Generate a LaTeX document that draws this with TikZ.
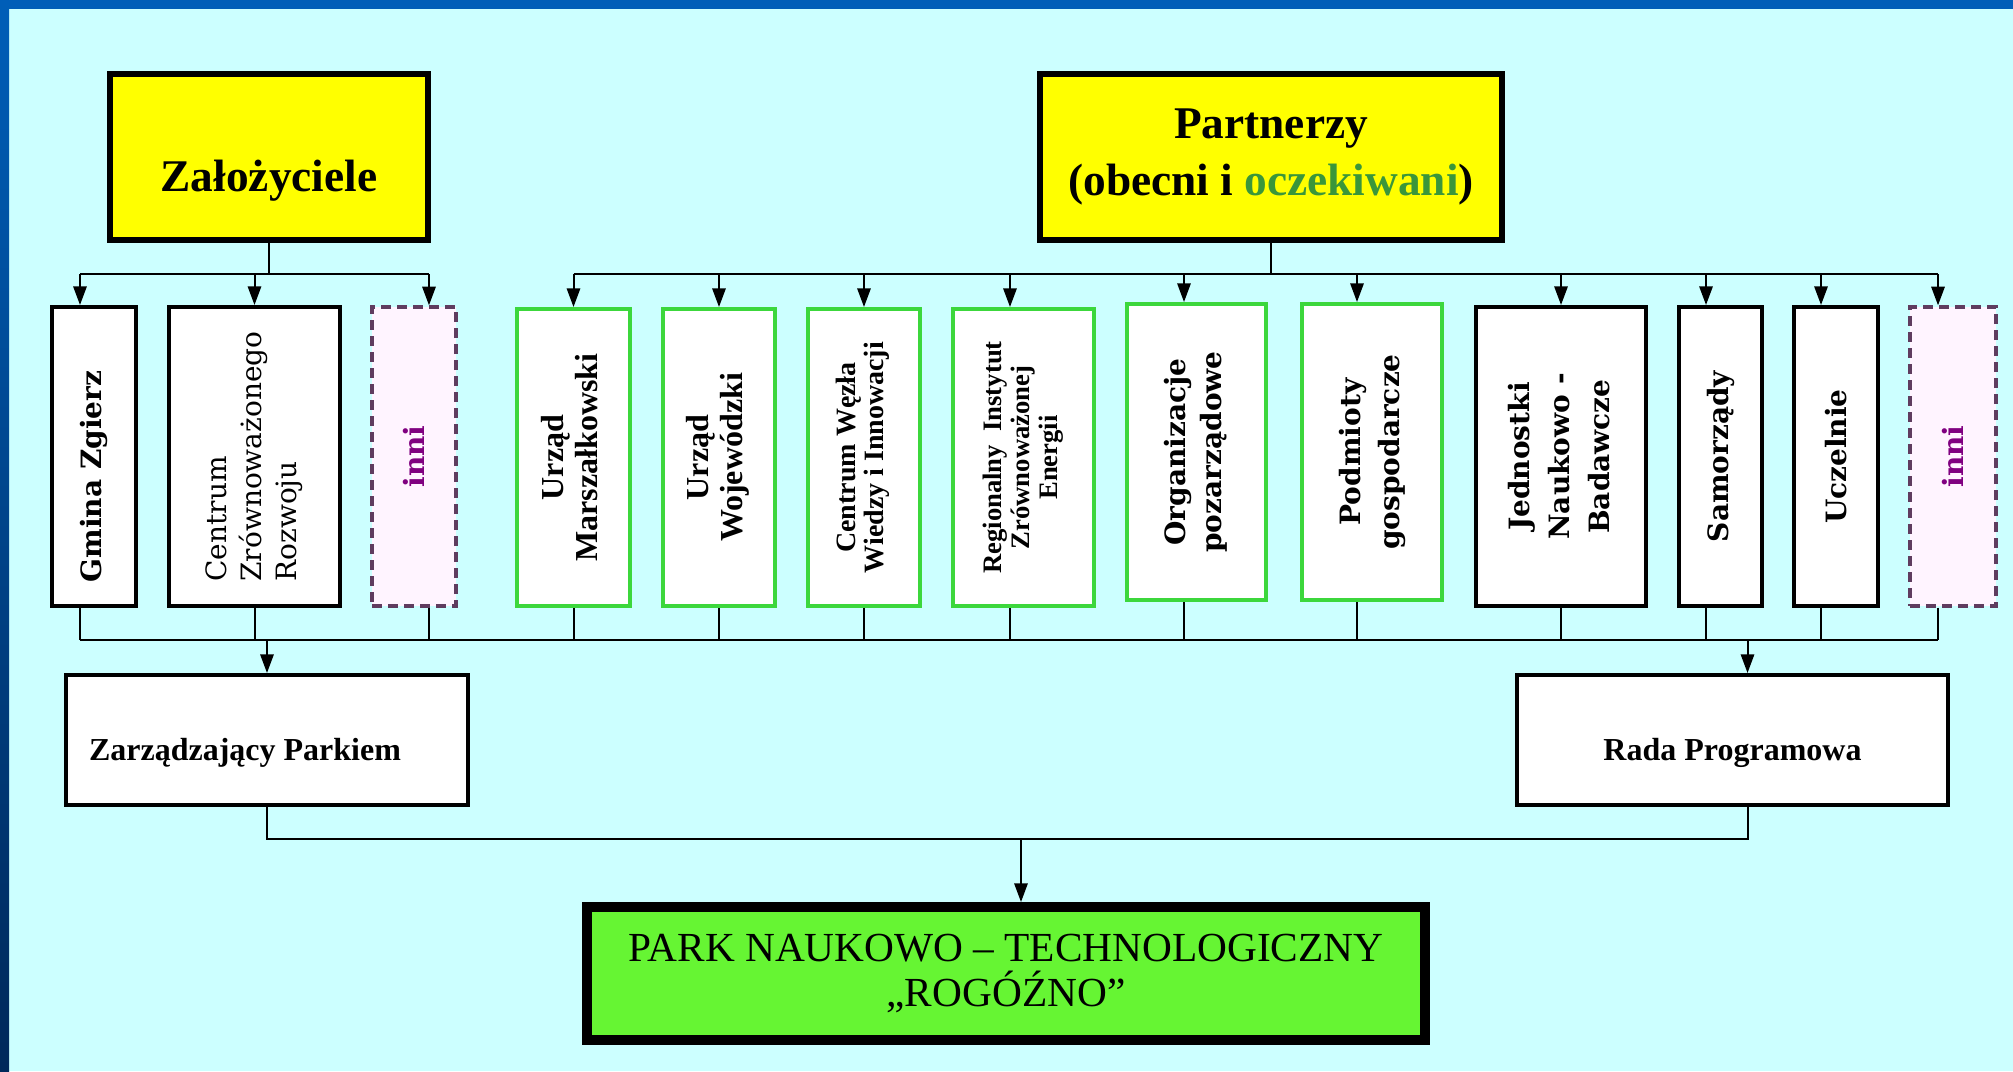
\documentclass[tikz,border=0pt]{standalone}
\usepackage{fontspec}
\usepackage{graphicx}
\setmainfont{Liberation Serif}
\newfontfamily\slabfont{DejaVu Serif}
\usetikzlibrary{arrows.meta,calc}

\newcommand{\uptext}[2][c]{\rotatebox{90}{\begin{tabular}{@{}#1@{}}#2\end{tabular}}}

\tikzset{every picture/.style={line width=0.75pt}}
\tikzset{
  boxsize/.style 2 args={minimum width={#1*0.75pt},minimum height={#2*0.75pt}},
  headbox/.style={draw,fill={rgb, 255:red, 255; green, 255; blue, 0},line width=4.5pt,inner sep=0pt,font=\bfseries\fontsize{34}{43}\selectfont},
  plainbox/.style={draw,fill=white,line width=3pt,inner sep=0pt},
  greenbox/.style={draw={rgb, 255:red, 60; green, 215; blue, 60},fill=white,line width=3pt,inner sep=0pt},
  dashbox/.style={draw={rgb, 255:red, 95; green, 60; blue, 95},fill={rgb, 255:red, 255; green, 244; blue, 255},line width=2.5pt,dash pattern=on 7.5pt off 4.5pt,inner sep=0pt,text={rgb, 255:red, 128; green, 0; blue, 128}},
  parkbox/.style={draw,fill={rgb, 255:red, 102; green, 245; blue, 51},line width=7.5pt,inner sep=0pt,font=\fontsize{31}{34}\selectfont},
  slabbold/.style={font=\slabfont\bfseries\fontsize{21}{#1}\selectfont},
  slabbold/.default=28,
  vtimes/.style 2 args={font=\bfseries\fontsize{#1}{#2}\selectfont},
  conn/.style={line width=1.5pt},
  arr/.style={conn,-{Triangle[width=10pt,length=14pt]}},
}

\begin{document}
\begin{tikzpicture}[x=0.75pt,y=0.75pt,yscale=-1,xscale=1]
\useasboundingbox (0,0) rectangle (2013,1071);

%Shape: Background
\fill[color={rgb, 255:red, 204; green, 255; blue, 255}] (0,0) rectangle (2013,1071);
\fill[color={rgb, 255:red, 0; green, 94; blue, 184}] (0,0) rectangle (2013,9);
\shade[top color={rgb, 255:red, 0; green, 94; blue, 184},bottom color={rgb, 255:red, 0; green, 40; blue, 90}] (0,0) rectangle (9,1071);

%Shape: Rectangle (heads)
\node[headbox,boxsize={318}{166},text height=52pt,text depth=0pt] (zal) at (269,157) {Założyciele};
\node[headbox,boxsize={462}{166},align=center] (part) at (1271,157) {Partnerzy\\(obecni i \textcolor[RGB]{58,150,58}{oczekiwani})};

%Shape: Rectangle (members)
\node[plainbox,boxsize={84}{299},slabbold] (gmina) at (94,456.5) {\rotatebox{90}{Gmina Zgierz\kern30pt}};
\node[plainbox,boxsize={171}{299},font=\slabfont\fontsize{21}{26}\selectfont] (czr) at (254.5,456.5) {\uptext[l]{Centrum\\Zrównoważonego\\Rozwoju}};
\node[dashbox,boxsize={84}{299},slabbold] (inni1) at (414,456.5) {\rotatebox{90}{inni}};
\node[greenbox,boxsize={113}{297},vtimes={24}{25.5}] (um) at (573.5,457.5) {\uptext{Urząd\\Marszałkowski}};
\node[greenbox,boxsize={112}{297},vtimes={24}{25.5}] (uw) at (719,457.5) {\uptext{Urząd\\Wojewódzki}};
\node[greenbox,boxsize={112}{297},vtimes={21}{21}] (cww) at (864,457.5) {\uptext{Centrum Węzła\\Wiedzy i Innowacji}};
\node[greenbox,boxsize={141}{297},vtimes={20}{21}] (riz) at (1023.5,457.5) {\uptext{Regionalny~ Instytut\\Zrównoważonej\\Energii}};
\node[greenbox,boxsize={139}{296},slabbold=27] (org) at (1196.5,452) {\uptext{Organizacje\\pozarządowe}};
\node[greenbox,boxsize={140}{296},slabbold=29] (pod) at (1372,452) {\uptext{Podmioty\\gospodarcze}};
\node[plainbox,boxsize={170}{299},slabbold=30] (jed) at (1561,456.5) {\uptext{Jednostki\\Naukowo -\\Badawcze}};
\node[plainbox,boxsize={83}{299},slabbold] (sam) at (1720.5,456.5) {\rotatebox{90}{Samorządy}};
\node[plainbox,boxsize={84}{299},slabbold] (ucz) at (1836,456.5) {\rotatebox{90}{Uczelnie}};
\node[dashbox,boxsize={86}{299},slabbold] (inni2) at (1953,456.5) {\rotatebox{90}{inni}};

%Shape: Rectangle (bodies)
\node[plainbox,boxsize={402}{130},vtimes={24}{28},text height=31pt,text depth=0pt] (zarz) at (267,740) {Zarządzający Parkiem\kern33pt};
\node[plainbox,boxsize={431}{130},vtimes={24}{28},text height=31pt,text depth=0pt] (rada) at (1732.5,740) {Rada Programowa};
\node[parkbox,boxsize={838}{133},align=center] (park) at (1006,973.5) {PARK NAUKOWO – TECHNOLOGICZNY\\„ROGÓŹNO”};

%Connectors
\coordinate (topbus) at (0,274);
\coordinate (lowbus) at (0,640);
\coordinate (parkbus) at (0,839);
\coordinate (gmina-x) at ($(gmina.center)+(-14,0)$);
\coordinate (czr-x) at (czr.center);
\coordinate (inni1-x) at ($(inni1.center)+(15,0)$);
\coordinate (um-x) at (um.center);
\coordinate (uw-x) at (uw.center);
\coordinate (cww-x) at (cww.center);
\coordinate (riz-x) at ($(riz.center)+(-13.5,0)$);
\coordinate (org-x) at ($(org.center)+(-12.5,0)$);
\coordinate (pod-x) at ($(pod.center)+(-15,0)$);
\coordinate (jed-x) at (jed.center);
\coordinate (sam-x) at ($(sam.center)+(-14.5,0)$);
\coordinate (ucz-x) at ($(ucz.center)+(-15,0)$);
\coordinate (inni2-x) at ($(inni2.center)+(-15,0)$);
\coordinate (rada-x) at ($(rada.center)+(15,0)$);
\coordinate (park-x) at ($(park.center)+(15,0)$);

\draw[conn] (zal.south) -- (zal.south |- topbus);
\draw[conn] (gmina-x |- topbus) -- (inni1-x |- topbus);
\draw[conn] (part.south) -- (part.south |- topbus);
\draw[conn] (um-x |- topbus) -- (inni2-x |- topbus);

\draw[arr] (gmina-x |- topbus) -- (gmina-x |- gmina.north); \draw[conn] (gmina-x |- gmina.south) -- (gmina-x |- lowbus);
\draw[arr] (czr-x |- topbus) -- (czr-x |- czr.north); \draw[conn] (czr-x |- czr.south) -- (czr-x |- lowbus);
\draw[arr] (inni1-x |- topbus) -- (inni1-x |- inni1.north); \draw[conn] (inni1-x |- inni1.south) -- (inni1-x |- lowbus);
\draw[arr] (um-x |- topbus) -- (um-x |- um.north); \draw[conn] (um-x |- um.south) -- (um-x |- lowbus);
\draw[arr] (uw-x |- topbus) -- (uw-x |- uw.north); \draw[conn] (uw-x |- uw.south) -- (uw-x |- lowbus);
\draw[arr] (cww-x |- topbus) -- (cww-x |- cww.north); \draw[conn] (cww-x |- cww.south) -- (cww-x |- lowbus);
\draw[arr] (riz-x |- topbus) -- (riz-x |- riz.north); \draw[conn] (riz-x |- riz.south) -- (riz-x |- lowbus);
\draw[arr] (org-x |- topbus) -- (org-x |- org.north); \draw[conn] (org-x |- org.south) -- (org-x |- lowbus);
\draw[arr] (pod-x |- topbus) -- (pod-x |- pod.north); \draw[conn] (pod-x |- pod.south) -- (pod-x |- lowbus);
\draw[arr] (jed-x |- topbus) -- (jed-x |- jed.north); \draw[conn] (jed-x |- jed.south) -- (jed-x |- lowbus);
\draw[arr] (sam-x |- topbus) -- (sam-x |- sam.north); \draw[conn] (sam-x |- sam.south) -- (sam-x |- lowbus);
\draw[arr] (ucz-x |- topbus) -- (ucz-x |- ucz.north); \draw[conn] (ucz-x |- ucz.south) -- (ucz-x |- lowbus);
\draw[arr] (inni2-x |- topbus) -- (inni2-x |- inni2.north); \draw[conn] (inni2-x |- inni2.south) -- (inni2-x |- lowbus);

\draw[conn] (gmina-x |- lowbus) -- (inni2-x |- lowbus);
\draw[arr] (zarz.north |- lowbus) -- (zarz.north);
\draw[arr] (rada-x |- lowbus) -- (rada-x |- rada.north);
\draw[conn] (zarz.south) |- (rada-x |- parkbus) -- (rada-x |- rada.south);
\draw[arr] (park-x |- parkbus) -- (park-x |- park.north);

\end{tikzpicture}
\end{document}
